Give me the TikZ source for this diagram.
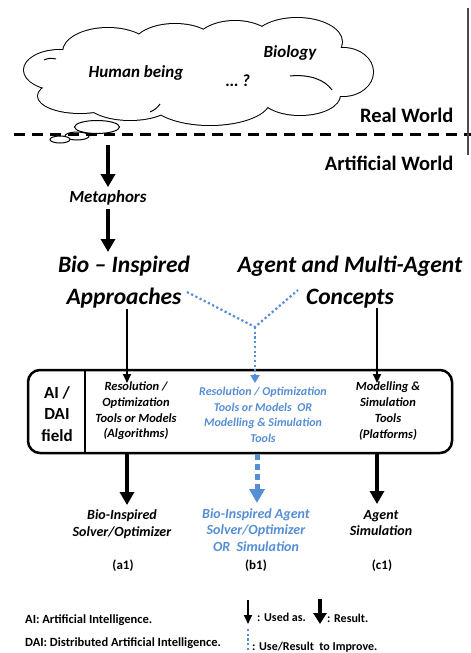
\documentclass[tikz,border=0pt]{standalone}
\usepackage{fontspec}
\setmainfont{Carlito}
\usetikzlibrary{arrows.meta}
\definecolor{lblue}{RGB}{85,142,213}
\tikzset{
  bigarrow/.style={line width=4pt,-{Triangle[width=14pt,length=13pt]}},
  thinarrow/.style={line width=1.8pt,-{Triangle[width=8pt,length=9pt]}},
  bluedots/.style={lblue,line width=2.2pt,dash pattern=on 2.2pt off 2.5pt},
  bluedash/.style={lblue,line width=5pt,dash pattern=on 6pt off 4pt,-{Triangle[width=15pt,length=14pt]}},
  cloudtxt/.style={font=\fontsize{17}{20}\selectfont\bfseries\itshape},
  boxtxt/.style={font=\fontsize{12.5}{15.7}\selectfont\bfseries\itshape,align=center},
  restxt/.style={font=\fontsize{14}{16.5}\selectfont\bfseries\itshape,align=center},
  lbl/.style={font=\fontsize{13}{15}\selectfont\bfseries},
  legend/.style={anchor=west,font=\fontsize{12.5}{14}\selectfont\bfseries,inner sep=0pt},
}
\newcommand{\cloudlobes}{%
  (60,70) ellipse (36pt and 20pt)
  (80,96) ellipse (42pt and 17pt)
  (108,52) ellipse (45pt and 24pt)
  (175,46) ellipse (42pt and 22pt)
  (235,44) ellipse (40pt and 23pt)
  (297,42) ellipse (45pt and 24pt)
  (343,72) ellipse (30pt and 24pt)
  (300,95) ellipse (40pt and 20pt)
  (210,100) ellipse (60pt and 25pt)
  (130,100) ellipse (45pt and 20pt)}
\begin{document}
\begin{tikzpicture}[x=1pt,y=-1pt]
\useasboundingbox (0,0) rectangle (471,653);
% cloud
\draw[line width=2pt] \cloudlobes;
\fill[white] \cloudlobes;
\fill[white] (200,72) ellipse (135pt and 38pt);
\draw[line width=1pt] (290,76) .. controls (310,74) and (325,80) .. (332,90);
\draw[line width=1pt] (150,112) .. controls (155,110) and (158,107) .. (160,104);
\draw[line width=1pt] (44,60) .. controls (48,58) and (52,58) .. (56,59);
\draw[line width=1pt,fill=white] (97,127) ellipse (22.5pt and 6.5pt);
\draw[line width=1pt,fill=white] (77,136) ellipse (12pt and 4pt);
\draw[line width=1pt,fill=white] (60,139.5) ellipse (10pt and 3.5pt);
\node[cloudtxt] (hb) at (136,73) {Human being};
\node[cloudtxt] (bio) at (290,53) {Biology};
\node[cloudtxt] (q) at (238,81) {\dots\ ?};
% worlds
\draw[line width=3pt,dash pattern=on 11pt off 7pt] (14,134) -- (471,134);
\draw[line width=1.5pt,black!70] (468,8) -- (468,155);
\node[anchor=east,font=\fontsize{20.5}{22}\selectfont\bfseries] (rw) at (457,115) {Real World};
\node[anchor=east,font=\fontsize{20.5}{22}\selectfont\bfseries] (aw) at (457,163) {Artificial World};
% metaphors
\coordinate (c0) at (108,145);
\node[font=\fontsize{17}{19}\selectfont\bfseries\itshape] (met) at (108,198) {Metaphors};
\draw[bigarrow] (c0) -- (met.north);
\node[font=\fontsize{23.5}{26}\selectfont\bfseries\itshape,align=center] (bia) at (124,282) {Bio -- Inspired\\[6pt]Approaches};
\node[font=\fontsize{23.5}{26}\selectfont\bfseries\itshape,align=center] (ama) at (350,282) {Agent and Multi-Agent\\[6pt]Concepts};
\draw[bigarrow] (met.south) -- (108,252);
% box
\draw[line width=2.5pt,rounded corners=12pt] (28,370) rectangle (452,453);
\draw[line width=2pt] (85,370) -- (85,453);
\node[font=\fontsize{17}{21.5}\selectfont\bfseries,align=center] (ai) at (57,414) {AI /\\DAI\\field};
\node[boxtxt] (lt) at (136,411) {Resolution /\\Optimization\\Tools or Models\\(Algorithms)};
\node[boxtxt,font=\fontsize{12}{15.5}\selectfont\bfseries\itshape,text=lblue] (mt) at (263,415) {Resolution / Optimization\\Tools or Models \ OR\\Modelling \& Simulation\\Tools};
\node[boxtxt] (rt) at (388,411) {Modelling \&\\Simulation\\Tools\\(Platforms)};
% arrows into box
\coordinate (la) at (127,309);
\coordinate (ra) at (377,308);
\coordinate (lb) at (127,383);
\coordinate (rb) at (377,383);
\draw[thinarrow] (la) -- (lb);
\draw[thinarrow] (ra) -- (rb);
\coordinate (m1) at (187,292);
\coordinate (m2) at (298,290);
\coordinate (mj) at (255,327);
\coordinate (mb) at (255,383);
\draw[bluedots] (m1) -- (mj) -- (m2);
\draw[bluedots] (mj) -- (255,375);
\draw[lblue,line width=2pt,-{Triangle[width=9pt,length=8pt]}] (255,374) -- (mb);
% arrows out of box
\node[restxt] (ra1) at (122,524) {Bio-Inspired\\Solver/Optimizer};
\node[restxt,text=lblue] (rb1) at (256,530) {Bio-Inspired Agent\\Solver/Optimizer\\OR \ Simulation};
\node[restxt] (rc1) at (381,523) {Agent\\Simulation};
\draw[bigarrow] (127,454) -- (127,505);
\draw[bluedash] (257,454) -- (257,503);
\draw[bigarrow] (377,454) -- (377,504);
\node[lbl] (a1) at (123,566) {(a1)};
\node[lbl] (b1) at (256,566) {(b1)};
\node[lbl] (c1) at (382,566) {(c1)};
% legend
\node[legend] (lg1) at (25,620) {AI: Artificial Intelligence.};
\node[legend] (lg2) at (25,643) {DAI: Distributed Artificial Intelligence.};
\draw[thinarrow] (248,600) -- (248,624);
\node[legend,font=\fontsize{12}{14}\selectfont\bfseries] (lg3) at (257,617) {: Used as.};
\draw[line width=3.5pt,-{Triangle[width=13pt,length=11pt]}] (320,599) -- (320,624);
\node[legend,font=\fontsize{12}{14}\selectfont\bfseries] (lg4) at (327,618) {: Result.};
\draw[bluedots] (248,629) -- (248,653);
\node[legend,font=\fontsize{12}{14}\selectfont\bfseries] (lg5) at (252,647) {: Use/Result \ to Improve.};
\end{tikzpicture}
\end{document}
